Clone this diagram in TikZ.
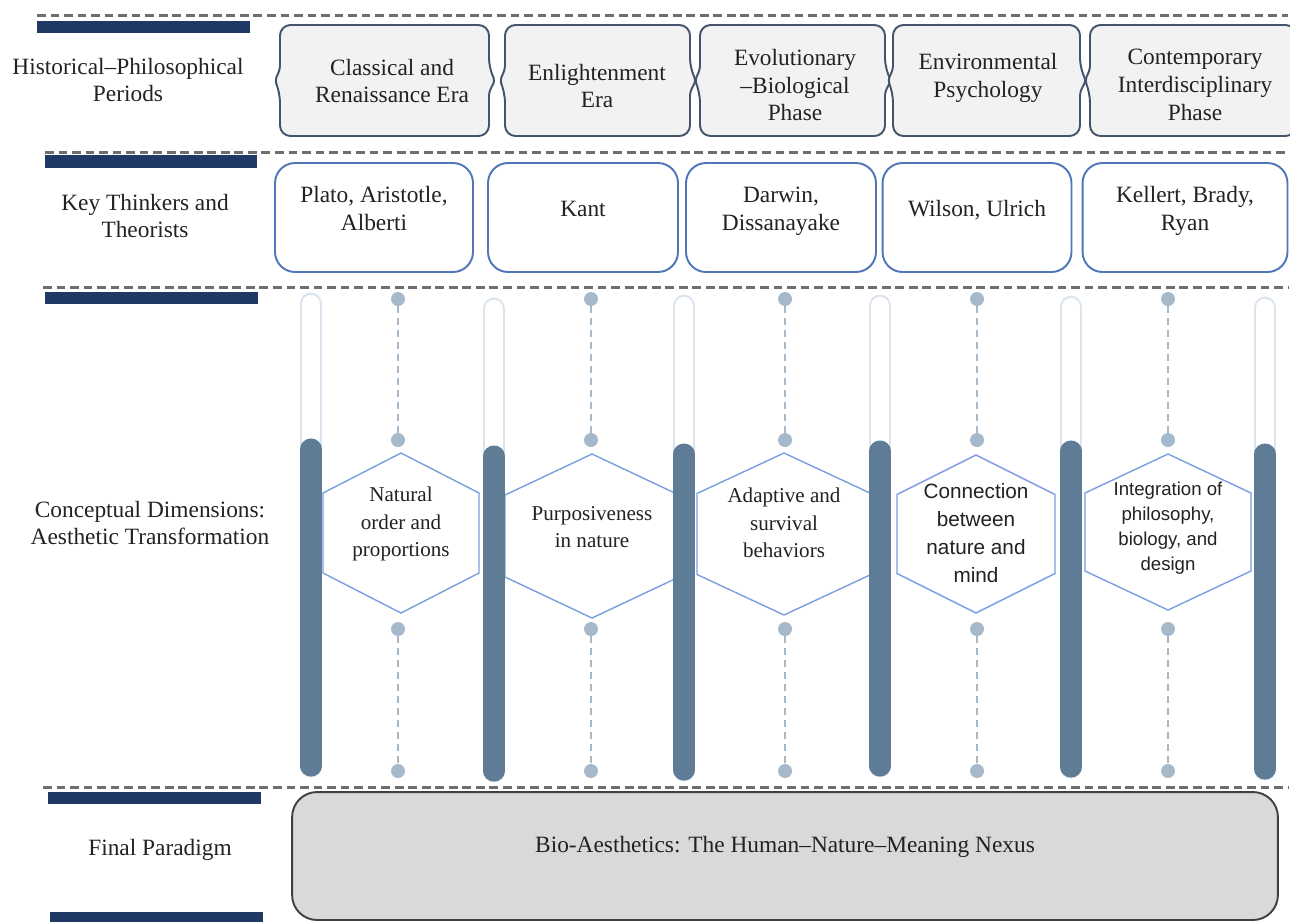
\documentclass[tikz,border=0pt]{standalone}
\usepackage{fontspec}
\setmainfont{Liberation Serif}
\newfontfamily\sansfont{Liberation Sans}
\usepackage{xcolor}
\definecolor{cNavy}{HTML}{1F3864}
\definecolor{cSep}{HTML}{6E6E6E}
\definecolor{cEraFill}{HTML}{F2F2F2}
\definecolor{cEraLine}{HTML}{44546A}
\definecolor{cBlue}{HTML}{4F76B8}
\definecolor{cHex}{HTML}{7A9EDE}
\definecolor{cBarPale}{HTML}{DCE5EF}
\definecolor{cBar}{HTML}{5F7C96}
\definecolor{cDot}{HTML}{A6B9CB}
\definecolor{cFinal}{HTML}{D9D9D9}
\definecolor{cFinalLine}{HTML}{404040}
\definecolor{cText}{HTML}{222222}
\usetikzlibrary{calc}
\tikzset{
  row-label/.style={align=center,text=cText,font=\fontsize{13.3}{15}\selectfont},
  era-text/.style={align=center,text=cText,font=\fontsize{13.3}{15.8}\selectfont},
  era-line/.style={draw=cEraLine,fill=cEraFill,line width=1.1pt},
  thinker-box/.style={draw=cBlue,line width=1.1pt,fill=white,rounded corners=0.4cm,
    minimum height=2.18cm,text depth=10pt,align=center,text=cText,
    font=\fontsize{13.3}{16}\selectfont},
  final-box/.style={draw=cFinalLine,line width=1.1pt,fill=cFinal,rounded corners=0.5cm,
    minimum width=19.72cm,minimum height=2.56cm,text depth=13pt,text=cText,
    font=\fontsize{13.3}{16}\selectfont},
  sep-line/.style={draw=cSep,line width=1.7pt,dash pattern=on 5pt off 2.7pt},
  nav-bar/.style={fill=cNavy},
  hex-line/.style={draw=cHex,line width=0.8pt,fill=white},
  hex-text/.style={align=center,text=cText,font=\fontsize{12}{15.5}\selectfont},
  bar-pale/.style={draw=cBarPale,line width=13pt,line cap=round,
    postaction={draw=white,line width=10.4pt}},
  bar-fill/.style={draw=cBar,line width=12pt,line cap=round},
  dot/.style={circle,fill=cDot,inner sep=0pt,minimum size=0.28cm},
  dash-link/.style={draw=cDot,line width=1.1pt,dash pattern=on 4pt off 2.8pt},
}
% era frame: left x, right x
\newcommand{\eraframe}[2]{%
  \draw[era-line,rounded corners=6pt] ({(#1+#2)/2},25) -- (#2,25) -- (#2,69)
    [rounded corners=2pt] -- (#2+6,80.5) -- (#2,92)
    [rounded corners=6pt] -- (#2,136) -- (#1,136) -- (#1,92)
    [rounded corners=2pt] -- (#1-5,80.5) -- (#1,69)
    [rounded corners=6pt] -- (#1,25) -- cycle;}

\begin{document}
\begin{tikzpicture}[x=0.02cm,y=-0.02cm]
  \useasboundingbox (0,0) rectangle (1290,921);

  % separators and row bars
  \draw[sep-line] (37,15) -- (1288,15);
  \draw[sep-line] (45,152) -- (1288,152);
  \draw[sep-line] (43,287) -- (1288,287);
  \draw[sep-line] (43,787) -- (1288,787);
  \fill[nav-bar] (37,21) rectangle (250,33);
  \fill[nav-bar] (45,155) rectangle (257,168);
  \fill[nav-bar] (45,292) rectangle (258,304);
  \fill[nav-bar] (48,792) rectangle (261,804);
  \fill[nav-bar] (50,912) rectangle (263,924);

  % row labels
  \node[row-label] (lbl-era)   at (128,80)  {Historical–Philosophical\\Periods};
  \node[row-label] (lbl-think) at (145,216) {Key Thinkers and\\Theorists};
  \node[row-label] (lbl-dim)   at (150,523) {Conceptual Dimensions:\\Aesthetic Transformation};
  \node[row-label] (lbl-final) at (160,850) {Final Paradigm};

  % periods
  \eraframe{280}{489}
  \eraframe{505}{690}
  \eraframe{700}{885}
  \eraframe{893}{1080}
  \eraframe{1090}{1296}
  \node[era-text] (era1) at (392,81) {Classical and\\Renaissance Era};
  \node[era-text] (era2) at (597,86) {Enlightenment\\Era};
  \node[era-text] (era3) at (795,85) {Evolutionary\\–Biological\\Phase};
  \node[era-text] (era4) at (988,78) {Environmental\\Psychology};
  \node[era-text] (era5) at (1195,85) {Contemporary\\Interdisciplinary\\Phase};

  % thinkers
  \node[thinker-box,minimum width=3.96cm] (th1) at (374,217.5) {Plato, Aristotle,\\Alberti};
  \node[thinker-box,minimum width=3.8cm]  (th2) at (583,217.5) {Kant};
  \node[thinker-box,minimum width=3.8cm]  (th3) at (781,217.5) {Darwin,\\Dissanayake};
  \node[thinker-box,minimum width=3.78cm] (th4) at (977,217.5) {Wilson, Ulrich};
  \node[thinker-box,minimum width=4.1cm]  (th5) at (1185,217.5) {Kellert, Brady,\\Ryan};

  % hexagons
  \foreach \x/\y/\w/\h in {401/533/78/80, 592/536/87/82, 784/534/87/81,
                           976/534/79/79, 1168/532/83/78}{
    \draw[hex-line] (\x,\y-\h) -- (\x+\w,\y-\h/2) -- (\x+\w,\y+\h/2) -- (\x,\y+\h)
      -- (\x-\w,\y+\h/2) -- (\x-\w,\y-\h/2) -- cycle;
  }
  \node[hex-text] (hx1) at (401,524) {Natural\\order and\\proportions};
  \node[hex-text] (hx2) at (592,527) {Purposiveness\\in nature};
  \node[hex-text] (hx3) at (784,523) {Adaptive and\\survival\\behaviors};
  \node[hex-text,font=\sansfont\fontsize{11.8}{16}\selectfont] (hx4) at (976,533)
    {Connection\\between\\nature and\\mind};
  \node[hex-text,font=\sansfont\fontsize{10.6}{14.2}\selectfont] (hx5) at (1168,528)
    {Integration of\\philosophy,\\biology, and\\design};

  % capsules
  \foreach \x/\t/\d/\b in {311/293/438/777, 494/298/445/782, 684/295/443/781,
                           880/295/440/777, 1071/296/440/778, 1265/297/443/780}{
    \draw[bar-pale] (\x,\t+11) -- (\x,\b-11);
    \draw[bar-fill] (\x,\d+11) -- (\x,\b-11);
  }

  % dots and dashed links
  \foreach \i/\x in {1/398,2/591,3/785,4/977,5/1168}{
    \node[dot] (ua\i) at (\x,299) {};
    \node[dot] (ub\i) at (\x,440) {};
    \node[dot] (la\i) at (\x,629) {};
    \node[dot] (lb\i) at (\x,771) {};
    \draw[dash-link] (ua\i) -- (ub\i);
    \draw[dash-link] (la\i) -- (lb\i);
  }

  % final paradigm
  \node[final-box] (final) at (785,856) {Bio-Aesthetics: The Human–Nature–Meaning Nexus};
\end{tikzpicture}
\end{document}
